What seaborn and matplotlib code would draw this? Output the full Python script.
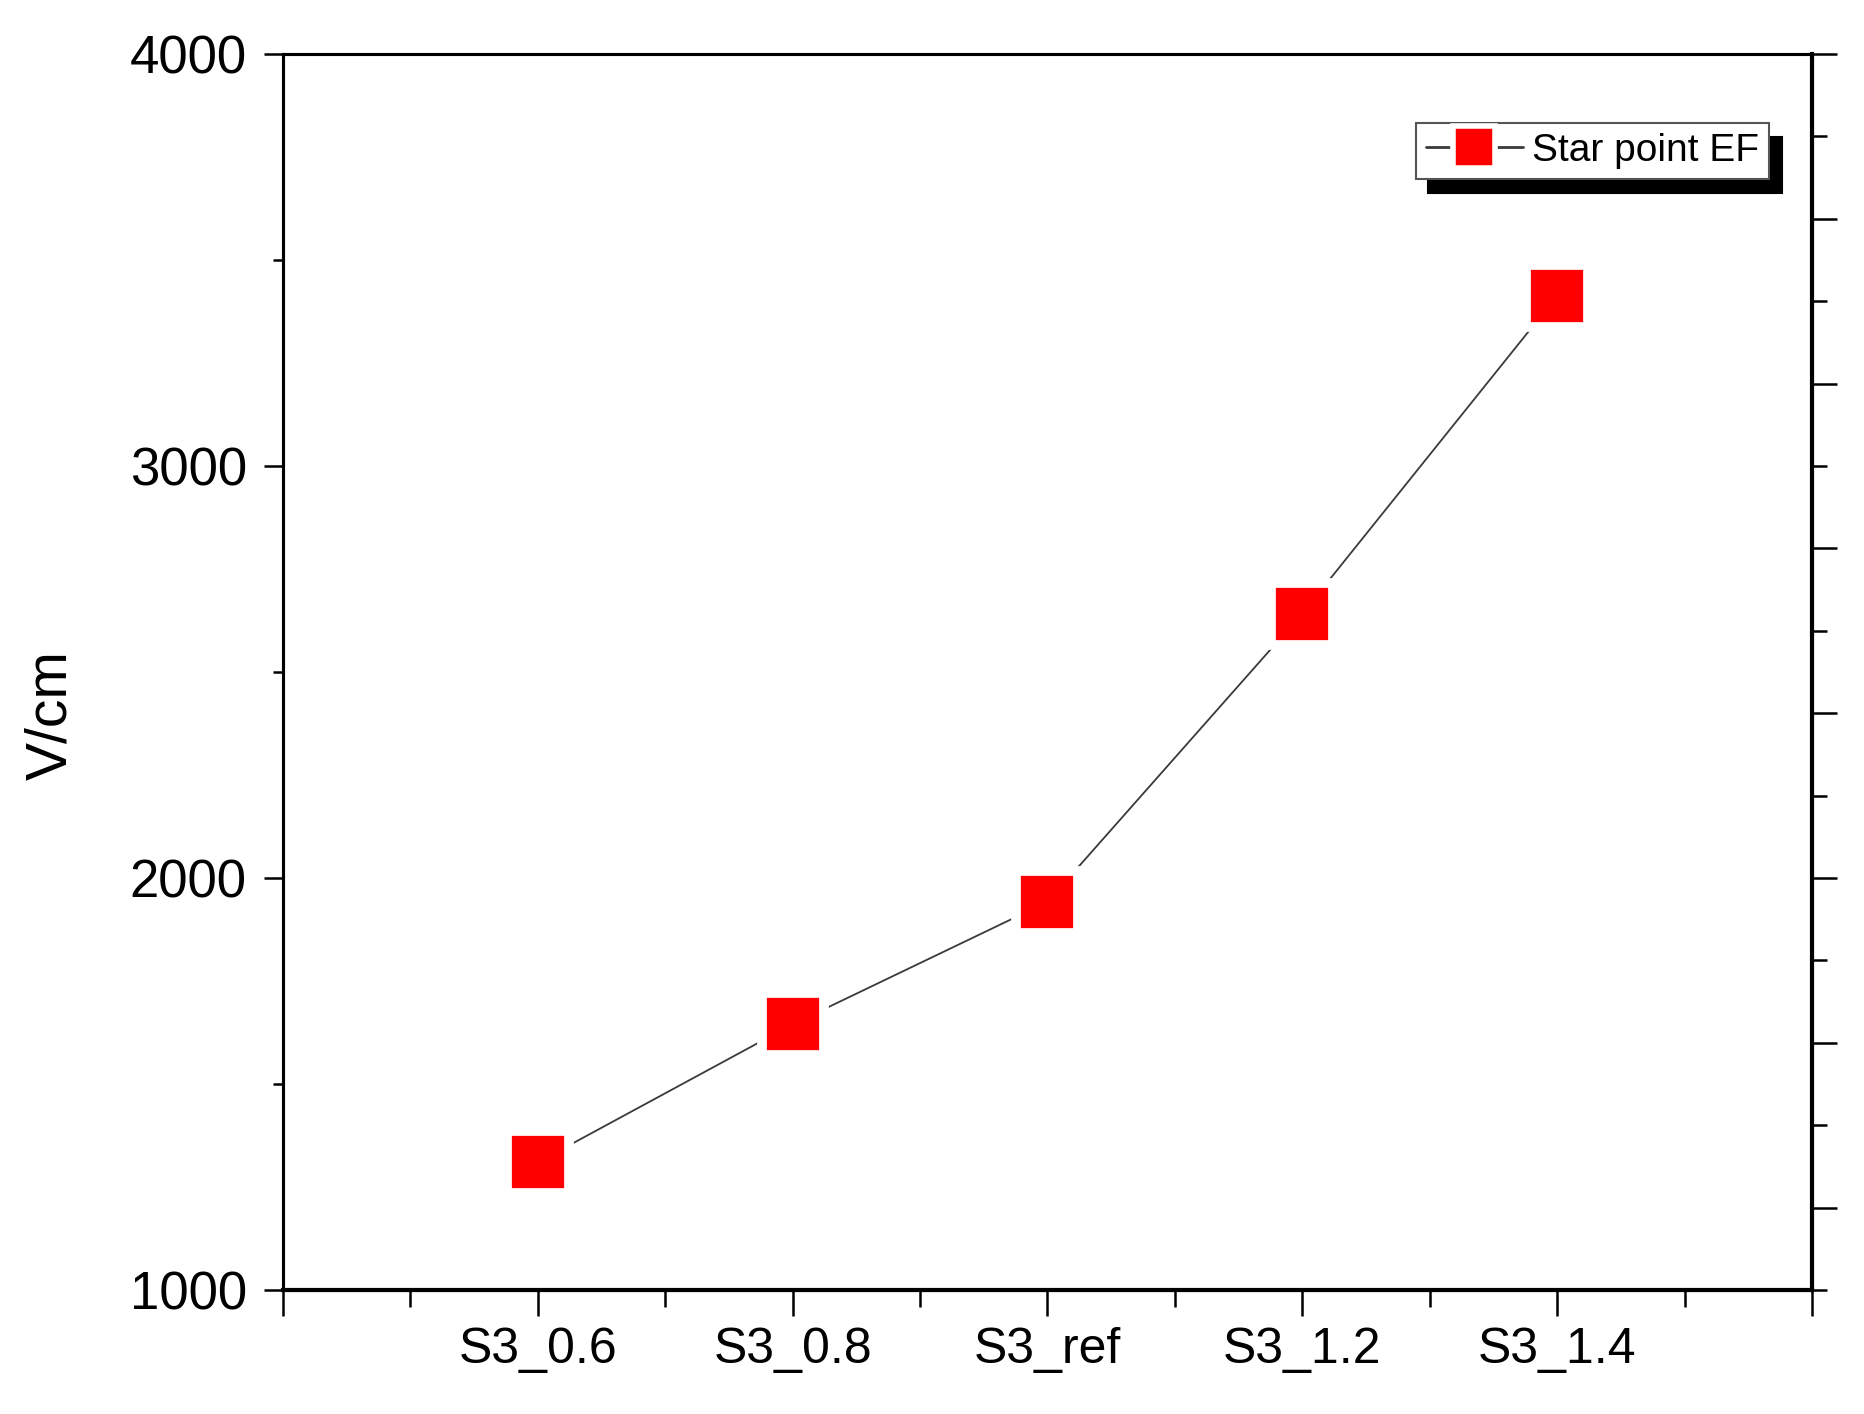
import numpy as np
import pandas as pd
import matplotlib
matplotlib.use("Agg")
import matplotlib.pyplot as plt
from matplotlib.ticker import FixedLocator, MultipleLocator, NullFormatter
import seaborn as sns

# 數據
samples = ["S3_0.6", "S3_0.8", "S3_ref", "S3_1.2", "S3_1.4"]
star_point_ef = [1310, 1645, 1942, 2642, 3413]
series_label = "Star point EF"
y_label = "V/cm"
y_major = [1000, 2000, 3000, 4000]
right_major = [1200, 1600, 2000, 2400, 2800, 3200, 3600, 4000]
right_minor = [1000, 1400, 1800, 2200, 2600, 3000, 3400, 3800]

df = pd.DataFrame({"sample": samples, "ef": star_point_ef})

sns.set_style("white")
plt.rcParams["font.family"] = ["Liberation Sans", "DejaVu Sans"]
plt.rcParams["text.color"] = "black"
plt.rcParams["axes.labelcolor"] = "black"
plt.rcParams["xtick.color"] = "black"
plt.rcParams["ytick.color"] = "black"

fig = plt.figure(figsize=(18.64, 14.14), dpi=100)
ax = fig.add_axes([0.1518, 0.0877, 0.8203, 0.8741])

sns.lineplot(data=df, x="sample", y="ef", ax=ax, sort=False,
             color="#3a3a3a", linewidth=1.3, marker="s", markersize=44,
             markerfacecolor="red", markeredgecolor="white",
             markeredgewidth=7, label=series_label)

ax.set_xlim(-1, len(samples))
ax.set_ylim(1000, 4000)

# x 軸刻度
ax.set_xticks(range(-1, len(samples) + 1))
ax.set_xticklabels([""] + samples + [""])
ax.xaxis.set_minor_locator(MultipleLocator(0.5))
ax.set_xlabel("")

# y 軸刻度
ax.set_yticks(y_major)
ax.yaxis.set_minor_locator(MultipleLocator(500))
ax.set_ylabel(y_label, fontsize=41)
ax.yaxis.set_label_coords(-0.134, 0.465)

ax.tick_params(axis="x", which="major", direction="out", length=19, width=1.8,
               labelsize=36, pad=8, bottom=True, top=False)
ax.tick_params(axis="x", which="minor", direction="out", length=12, width=1.8,
               bottom=True, top=False)
ax.tick_params(axis="y", which="major", direction="out", length=14, width=1.8,
               labelsize=38, pad=12, left=True, right=False)
ax.tick_params(axis="y", which="minor", direction="out", length=7.5, width=1.8,
               left=True, right=False)

# 右側軸
ax2 = ax.twinx()
ax2.set_ylim(ax.get_ylim())
ax2.yaxis.set_major_locator(FixedLocator(right_major))
ax2.yaxis.set_minor_locator(FixedLocator(right_minor))
ax2.yaxis.set_major_formatter(NullFormatter())
ax2.tick_params(axis="y", which="major", direction="out", length=18, width=1.8)
ax2.tick_params(axis="y", which="minor", direction="out", length=11, width=1.8)
ax2.grid(False)

for a in (ax, ax2):
    for side, spine in a.spines.items():
        spine.set_visible(True)
        spine.set_color("black")
        spine.set_linewidth(2.2)
ax.spines["bottom"].set_linewidth(3)
ax2.spines["right"].set_linewidth(3)

leg = ax.legend(loc="upper right", bbox_to_anchor=(0.972, 0.944), borderaxespad=0,
                fontsize=28, frameon=True, fancybox=False, markerscale=0.68,
                handlelength=2.5, handletextpad=0.25, borderpad=0.25,
                shadow={"ox": 9, "oy": -10, "color": "black", "alpha": 1})
leg.get_frame().set_edgecolor("#555555")
leg.get_frame().set_linewidth(1.5)
leg.get_frame().set_facecolor("white")
for ln in leg.get_lines():
    ln.set_linewidth(2)
    ln.set_markeredgewidth(4)

fig.savefig("out.png", dpi=100)
plt.close(fig)
